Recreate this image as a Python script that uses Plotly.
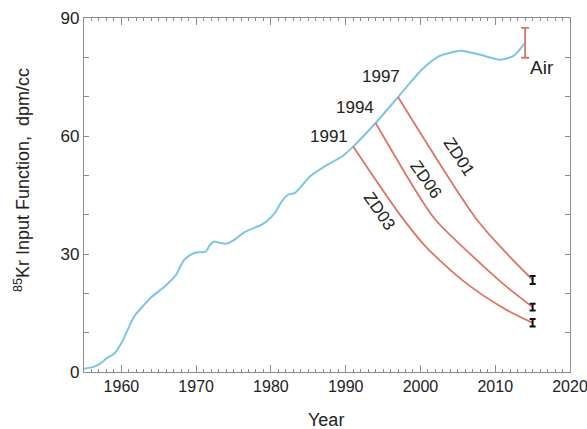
import plotly.graph_objects as go

# 85Kr atmospheric input function (dpm/cc)
input_years = [1955.0, 1956.3, 1957.2, 1958.1, 1959.0, 1960.1, 1961.7, 1963.0, 1964.1,
               1965.7, 1967.3, 1967.8, 1968.4, 1969.2, 1970.0, 1971.3, 1971.8, 1972.4,
               1973.2, 1974.0, 1975.1, 1976.5, 1978.7, 1979.6, 1980.5, 1981.5, 1982.3,
               1983.2, 1984.2, 1985.2, 1987.2, 1989.5, 1991.0, 1994.0, 1997.0, 2000.2,
               2002.5, 2005.4, 2007.9, 2010.6, 2012.4, 2014.0]
input_vals = [0.8, 1.3, 2.2, 3.6, 4.6, 7.7, 14.1, 17.0, 19.2,
              21.6, 24.7, 26.5, 28.5, 29.7, 30.4, 30.6, 32.2, 33.2,
              32.8, 32.6, 33.6, 35.6, 37.4, 38.6, 40.4, 43.5, 45.1,
              45.5, 47.5, 49.7, 52.3, 54.8, 57.3, 63.3, 69.9, 76.9,
              80.3, 81.7, 80.7, 79.4, 80.3, 83.7]

# Decay curves from the recharge years
zd03_years = [1991, 1997.1, 2000.7, 2006.1, 2011.5, 2015]
zd03_vals = [57.3, 40.4, 31.9, 22.6, 15.8, 12.5]
zd06_years = [1994, 1999.3, 2002.0, 2007.0, 2011.5, 2015]
zd06_vals = [63.3, 46.3, 38.7, 29.4, 21.7, 16.5]
zd01_years = [1997, 2007.4, 2011.5, 2015]
zd01_vals = [69.9, 39.1, 30.2, 23.4]

# Measured samples (2015) and present-day air
sample_year = 2015
sample_vals = [23.4, 16.5, 12.5]
sample_err = [1.0, 0.85, 0.95]
air_year = 2014
air_val = 83.7
air_err = 3.8

x_range = [1955, 2020]
y_range = [0, 90]
x_ticks = [1960, 1970, 1980, 1990, 2000, 2010, 2020]
y_ticks = [0, 30, 60, 90]

BLUE = "#7DC4E6"
RED = "#DE7563"
AXIS = "#8C8C8C"
TXT = "#222222"
FONT = "Liberation Sans, Arial, sans-serif"

fig = go.Figure()

fig.add_trace(go.Scatter(x=input_years, y=input_vals, mode="lines",
                         line=dict(color=BLUE, width=2, shape="spline", smoothing=0.6),
                         hoverinfo="skip"))
for yrs, vals in [(zd03_years, zd03_vals), (zd06_years, zd06_vals), (zd01_years, zd01_vals)]:
    fig.add_trace(go.Scatter(x=yrs, y=vals, mode="lines",
                             line=dict(color=RED, width=1.8, shape="spline", smoothing=0.8),
                             hoverinfo="skip"))

fig.add_trace(go.Scatter(x=[sample_year] * len(sample_vals), y=sample_vals, mode="markers",
                         marker=dict(size=1, color="#111111"),
                         error_y=dict(type="data", array=sample_err, color="#111111",
                                      thickness=2, width=3)))
fig.add_trace(go.Scatter(x=[air_year], y=[air_val], mode="markers",
                         marker=dict(size=1, color=RED),
                         error_y=dict(type="data", array=[air_err], color=RED,
                                      thickness=1.8, width=4)))

# Boxed frame with inward ticks on all four sides
frame = dict(showline=True, linecolor=AXIS, linewidth=1.2, mirror="allticks",
             ticks="inside", tickwidth=1.2, tickcolor=AXIS,
             showgrid=False, zeroline=False, automargin=False)

fig.update_layout(
    template="none",
    xaxis=dict(range=x_range, tickmode="array", tickvals=x_ticks, ticklen=7,
               ticklabeloverflow="allow",
               tickfont=dict(size=16, color=TXT, family=FONT),
               minor=dict(tickmode="linear", tick0=1955, dtick=1, ticks="inside",
                          ticklen=3, tickwidth=1.2, tickcolor=AXIS, showgrid=False),
               **frame),
    yaxis=dict(range=y_range, tickmode="array", tickvals=y_ticks, ticklen=5,
               tickfont=dict(size=17, color=TXT, family=FONT),
               minor=dict(tickmode="linear", tick0=0, dtick=10, ticks="inside",
                          ticklen=5, tickwidth=1.2, tickcolor=AXIS, showgrid=False),
               **frame),
)

labels = [
    ("1991", 1987.8, 59.9, 0, 17),
    ("1994", 1991.2, 67.2, 0, 17),
    ("1997", 1994.7, 75.1, 0, 17),
    ("Air", 2016.3, 77.5, 0, 19),
    ("ZD01", 2005.1, 54.7, 57, 17),
    ("ZD06", 2000.7, 48.9, 55, 17),
    ("ZD03", 1994.5, 40.7, 55, 17),
]
annotations = [dict(text=t, x=x, y=y, xref="x", yref="y", showarrow=False, textangle=a,
                    xanchor="center", yanchor="middle",
                    font=dict(size=s, color=TXT, family=FONT))
               for t, x, y, a, s in labels]
annotations.append(dict(text="Year", x=0.498, y=-0.1356, xref="paper", yref="paper",
                        xanchor="center", yanchor="middle", showarrow=False,
                        font=dict(size=18, color=TXT, family=FONT)))
annotations.append(dict(text="<sup>85</sup>Kr Input Function,\u00a0\u00a0dpm/cc",
                        x=-0.1276, y=0.542, xref="paper", yref="paper", textangle=-90,
                        xanchor="center", yanchor="middle", showarrow=False,
                        font=dict(size=18, color=TXT, family=FONT)))

fig.update_layout(width=587, height=429, margin=dict(l=84, r=17, t=18, b=57),
                  paper_bgcolor="white", plot_bgcolor="white", showlegend=False,
                  annotations=annotations, font=dict(family=FONT, color=TXT))

fig.write_html("out.html")
